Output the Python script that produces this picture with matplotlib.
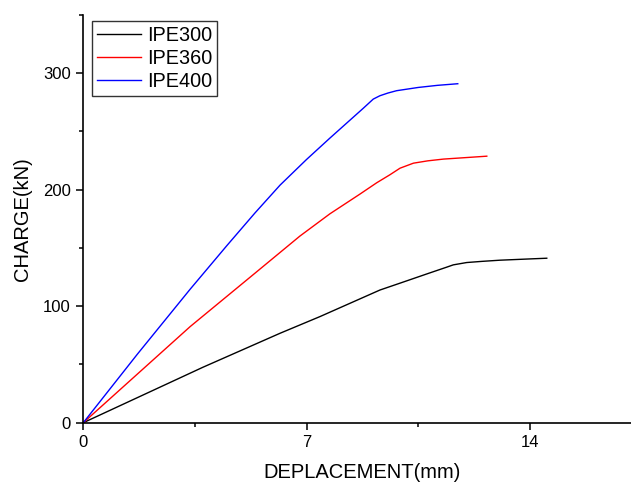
import matplotlib
matplotlib.use("Agg")
import matplotlib.pyplot as plt
from matplotlib.ticker import MultipleLocator

plt.rcParams['font.family'] = ['Liberation Sans', 'DejaVu Sans']

# Data
ipe300_x = [0, 3.75, 6.17, 7.42, 9.3, 9.93, 10.8, 11.39, 11.6, 12.02, 12.5, 13.06, 14.0, 14.53]
ipe300_y = [0, 47.6, 76.8, 91.1, 113.9, 119.8, 128.0, 133.5, 135.5, 137.5, 138.5, 139.5, 140.6, 141.2]

ipe360_x = [0, 3.35, 5.38, 6.79, 7.73, 8.67, 9.2, 9.61, 9.93, 10.35, 10.8, 11.29, 12.0, 12.65]
ipe360_y = [0, 82.5, 128.3, 160.2, 179.3, 196.2, 206.0, 212.8, 218.5, 222.8, 224.8, 226.3, 227.6, 228.8]

ipe400_x = [0, 1.7, 3.35, 4.5, 5.38, 6.17, 7.0, 7.73, 8.78, 9.09, 9.3, 9.55, 9.82, 10.5, 11.1, 11.74]
ipe400_y = [0, 59.0, 114.6, 152.0, 180.0, 204.0, 226.0, 244.3, 270.0, 277.8, 280.7, 283.0, 285.0, 287.8, 289.6, 291.0]

series_labels = ['IPE300', 'IPE360', 'IPE400']
x_ticks = [0, 7, 14]
y_ticks = [0, 100, 200, 300]

fig = plt.figure(figsize=(6.31, 4.86), dpi=100)
ax = fig.add_axes([83.3 / 631, (486 - 422.7) / 486, (641.5 - 83.3) / 631, 407.7 / 486])

ax.plot(ipe300_x, ipe300_y, color='black', lw=1.0, label=series_labels[0])
ax.plot(ipe360_x, ipe360_y, color='#ff0000', lw=1.0, label=series_labels[1])
ax.plot(ipe400_x, ipe400_y, color='#0000ff', lw=1.0, label=series_labels[2])

ax.set_xlim(0, 17.5)
ax.set_ylim(0, 350)
ax.set_xticks(x_ticks)
ax.set_yticks(y_ticks)
ax.xaxis.set_minor_locator(MultipleLocator(3.5))
ax.yaxis.set_minor_locator(MultipleLocator(50))

for s in ['top', 'right']:
    ax.spines[s].set_visible(False)
for s in ['left', 'bottom']:
    ax.spines[s].set_linewidth(1.2)

ax.tick_params(which='major', direction='out', length=5, width=1.1, labelsize=12, pad=4)
ax.tick_params(which='minor', direction='out', length=2.7, width=1.1)

ax.set_xlabel('DEPLACEMENT(mm)', fontsize=14.5, labelpad=9)
ax.set_ylabel('CHARGE(kN)', fontsize=14.5, labelpad=8)

leg = ax.legend(loc='upper left', bbox_to_anchor=(0.0156, 0.986), borderaxespad=0,
                fontsize=14.3, handlelength=2.2, handletextpad=0.3, borderpad=0.25,
                labelspacing=0.2, fancybox=False, framealpha=1, edgecolor='#333333')
leg.get_frame().set_linewidth(1.0)

fig.savefig('out.png', dpi=100)
